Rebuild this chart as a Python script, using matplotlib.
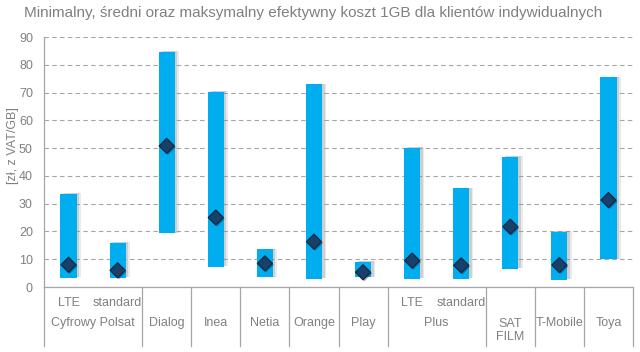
import matplotlib
matplotlib.use('Agg')
import matplotlib.pyplot as plt
import matplotlib.patheffects as pe
import matplotlib.transforms as mtransforms
import numpy as np

plt.rcParams['font.family'] = ['Liberation Sans', 'DejaVu Sans']

# Sub-categories (one bar each) and their group labels
sub_labels = ['LTE', 'standard', '', '', '', '', '', 'LTE', 'standard', '', '', '']
groups = ['Cyfrowy Polsat', 'Dialog', 'Inea', 'Netia', 'Orange', 'Play', 'Plus',
          'SAT\nFILM', 'T-Mobile', 'Toya']
group_sizes = [2, 1, 1, 1, 1, 1, 2, 1, 1, 1]

# Cost of 1GB [zł, incl. VAT]
min_cost = [3.4, 3.4, 19.3, 7.3, 3.5, 3.0, 3.5, 3.0, 3.0, 6.6, 2.5, 10.0]
avg_cost = [8.0, 6.0, 50.8, 25.0, 8.5, 16.3, 5.3, 9.5, 7.8, 21.7, 7.9, 31.3]
max_cost = [33.5, 16.0, 84.6, 70.3, 13.6, 73.0, 9.0, 50.2, 35.5, 46.9, 19.9, 75.5]

text_color = '#808080'
bar_color = '#00AEEF'

fig = plt.figure(figsize=(6.4, 3.52), dpi=100)
ax = fig.add_axes([44 / 640, 1 - 287 / 352, (633 - 44) / 640, 250 / 352])

x = np.arange(len(min_cost))
heights = np.array(max_cost) - np.array(min_cost)
bars = ax.bar(x, heights, bottom=min_cost, width=0.33, color=bar_color, zorder=3)
for b in bars:
    # soft shadow on the right side
    b.set_path_effects([pe.SimplePatchShadow(offset=(3, 0.5), shadow_rgbFace='#909090', alpha=0.18),
                        pe.SimplePatchShadow(offset=(1.8, 0.5), shadow_rgbFace='#808080', alpha=0.25),
                        pe.Normal()])

ax.scatter(x, avg_cost, marker='D', s=60, color='#17406B', edgecolor='#0C2540',
           linewidth=0.8, zorder=4,
           path_effects=[pe.SimplePatchShadow(offset=(1, -1), alpha=0.35), pe.Normal()])

ax.set_xlim(-0.5, len(min_cost) - 0.5)
ax.set_ylim(0, 90)
ax.set_yticks(range(0, 91, 10))
ax.tick_params(axis='y', length=0, labelsize=9, labelcolor=text_color, pad=8)
ax.set_xticks([])
ax.yaxis.grid(True, linestyle=(0, (4, 3)), color='#A6A6A6', linewidth=0.8, zorder=0)

for s in ['top', 'right']:
    ax.spines[s].set_visible(False)
for s in ['left', 'bottom']:
    ax.spines[s].set_color('#A6A6A6')
    ax.spines[s].set_linewidth(0.9)

ax.set_ylabel('[zł, z VAT/GB]', color=text_color, fontsize=9, va='center')
ax.yaxis.set_label_coords(-(44 - 13) / 589, 0.566)

# multi-level x axis labels
trans = mtransforms.blended_transform_factory(ax.transData, ax.transAxes)
for i, lab in enumerate(sub_labels):
    if lab:
        ax.text(i, -0.062, lab, transform=trans, ha='center', va='center',
                fontsize=9, color=text_color)

start = 0
bounds = [0]
for g, n in zip(groups, group_sizes):
    center = start + (n - 1) / 2
    y = -0.174 if '\n' in g else -0.145
    ax.text(center, y, g, transform=trans, ha='center', va='center',
            fontsize=9, color=text_color, linespacing=1.2)
    start += n
    bounds.append(start)

for bnd in bounds:
    ax.plot([bnd - 0.5, bnd - 0.5], [0, -0.236], transform=trans, color='#A6A6A6',
            linewidth=0.9, clip_on=False)

fig.text(313 / 640, 1 - 13 / 352,
         'Minimalny, średni oraz maksymalny efektywny koszt 1GB dla klientów indywidualnych',
         ha='center', va='center', fontsize=11, color=text_color)

fig.savefig('out.png', dpi=100)
